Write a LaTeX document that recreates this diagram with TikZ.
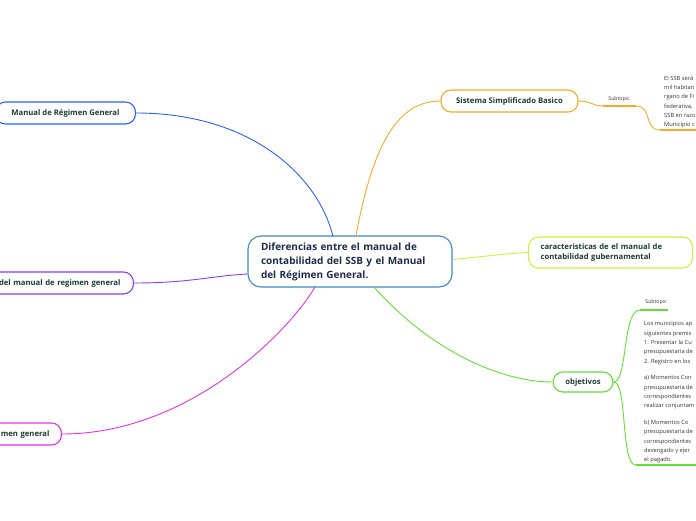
\documentclass[tikz,border=0pt]{standalone}
\usepackage{fontspec}
\setmainfont{Open Sans}
\usepackage{tikz}
\usetikzlibrary{positioning}
\definecolor{txtgreen}{HTML}{1B3D30}
\definecolor{txtnavy}{HTML}{1E2B4E}
\definecolor{cblue}{HTML}{2A62F5}
\definecolor{cpurple}{HTML}{8A3DF2}
\definecolor{cmagenta}{HTML}{E632E6}
\definecolor{corange}{HTML}{F7A928}
\definecolor{clime}{HTML}{D3EE3C}
\definecolor{cgreen}{HTML}{62E034}
\definecolor{ccentral}{HTML}{3C8BC9}
\tikzset{
  topic/.style={draw, line width=1.1pt, fill=white, rounded corners=10pt,
    font=\fontsize{7.7}{10.5}\selectfont\bfseries, text=txtgreen,
    minimum height=22pt, inner xsep=10pt},
  branch/.style={line width=0.9pt},
  leaf/.style={font=\fontsize{5.75}{9.3}\selectfont, text=black!80, align=left,
    inner sep=0pt, anchor=north west},
  sub/.style={font=\fontsize{5.2}{6}\selectfont, text=black!80, inner sep=1pt},
}
\begin{document}
\begin{tikzpicture}[x=1pt,y=-1pt]
\useasboundingbox (0,0) rectangle (696,520);
\clip (0,0) rectangle (696,520);

% central topic
\node[draw=ccentral, line width=1.1pt, fill=white, rounded corners=13pt,
  font=\fontsize{10}{14}\selectfont\bfseries, text=txtnavy, align=left,
  minimum width=204pt, minimum height=51pt, text width=178pt]
  (central) at (350,261.5)
  {Diferencias entre el manual de\\contabilidad del SSB y el Manual\\del Régimen General.};

% left topics
\node[topic, draw=cblue, minimum width=140pt, anchor=east] (manual) at (136,113)
  {Manual de Régimen General};
\node[topic, draw=cpurple, anchor=east, text width=150pt, align=right, inner xsep=13pt]
  (delmanual) at (134,283) {del manual de regimen general};
\node[topic, draw=cmagenta, anchor=east, text width=80pt, align=right, inner xsep=12pt]
  (general) at (62,434) {men general};

% right topics
\node[topic, draw=corange, minimum width=137pt] (ssb) at (509.5,101)
  {Sistema Simplificado Basico};
\node[topic, draw=clime, anchor=west, text width=140pt, align=left, inner xsep=12pt,
  minimum height=31pt] (caract) at (528,252.5)
  {caracteristicas de el manual de\\contabilidad gubernamental};
\node[topic, draw=cgreen, minimum width=60pt, minimum height=20pt] (objetivos) at (583,382)
  {objetivos};

% branches
\draw[branch, cblue] (manual.east) .. controls (250,113) and (318,175) .. (333,236.5);
\draw[branch, corange] (central.north) ++(6,0) coordinate (co)
  (co) .. controls (372,150) and (395,101) .. (ssb.west);
\draw[branch, cpurple] (delmanual.east) .. controls (190,283) and (210,276) .. (central.west |- 0,274);
\draw[branch, cmagenta] (general.east) .. controls (190,434) and (290,330) .. (315,287);
\draw[branch, clime] (central.east) ++(0,-2) coordinate (cl)
  (cl) .. controls (490,256) and (500,254) .. (caract.west);
\draw[branch, cgreen] (374,287) .. controls (430,350) and (500,382) .. (objetivos.west);

% subtopic of Sistema Simplificado Basico
\node[sub] (subssb) at (619,99.5) {Subtopic};
\coordinate (s1) at (603,106);
\coordinate (s2) at (636,106);
\coordinate (s3) at (660,130);
\coordinate (s4) at (700,130);
\draw[branch, corange] (ssb.east) .. controls (592,101) and (592,106) .. (s1);
\draw[corange, line width=1.3pt] (s1) -- (s2);
\draw[branch, corange] (s2) .. controls (652,106) and (644,130) .. (s3);
\draw[corange, line width=1.3pt] (s3) -- (s4);
\node[leaf] (textssb) at (664,75.5)
  {El SSB será\\mil habitan\\rgano de Fi\\federativa,\\SSB en razo\\Municipio c};

% subtopics of objetivos
\node[sub] (subobj) at (656,302) {Subtopic};
\coordinate (o1) at (640,310);
\coordinate (o2) at (668,310);
\coordinate (o3) at (636,465);
\coordinate (o4) at (700,465);
\draw[branch, cgreen] (objetivos.east) .. controls (628,382) and (622,310) .. (o1);
\draw[cgreen, line width=1.3pt] (o1) -- (o2);
\draw[branch, cgreen] (objetivos.east) .. controls (628,382) and (620,465) .. (o3);
\draw[cgreen, line width=1.3pt] (o3) -- (o4);
\node[leaf] (textobj) at (644,321.5)
  {Los municipios ap\\siguientes premis\\1. Presentar la Cu\\presupuestaria de\\2. Registro en los\\[7.5pt]
   a) Momentos Con\\presupuestaria de\\correspondientes\\realizar conjuntam\\[7.5pt]
   b) Momentos Co\\presupuestaria de\\correspondientes\\devengado y ejer\\el pagado.};
\end{tikzpicture}
\end{document}
